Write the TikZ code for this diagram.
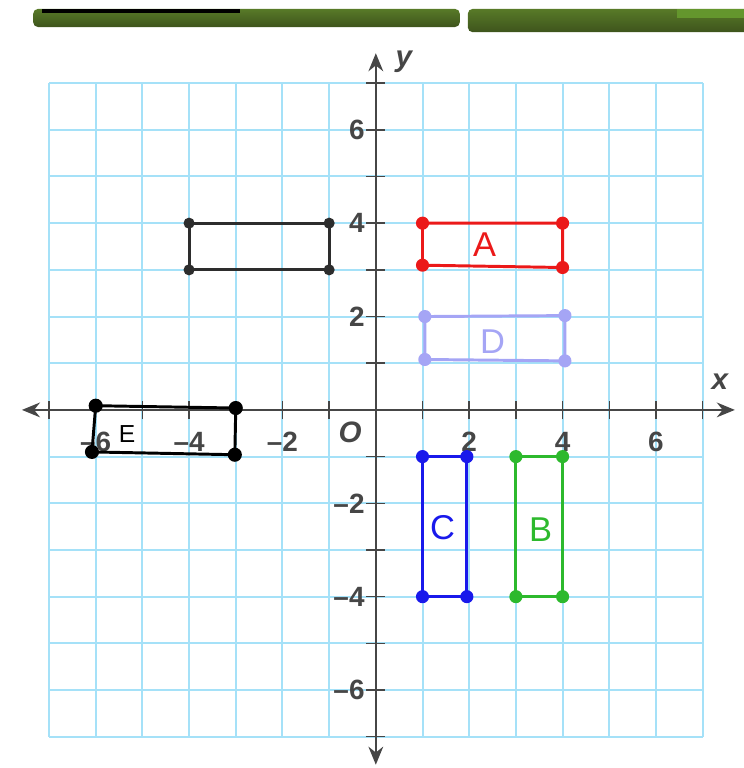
\documentclass[tikz,border=0pt]{standalone}
\usepackage{fontspec}
\setsansfont{Liberation Sans}
\usepackage{xcolor}
\usetikzlibrary{arrows.meta}
\definecolor{gridcyan}{RGB}{165,225,248}
\definecolor{axisgray}{RGB}{70,70,70}
\definecolor{barlight}{RGB}{88,122,40}
\definecolor{bardark}{RGB}{62,84,28}
\definecolor{barbright}{RGB}{100,150,45}
\definecolor{shapegray}{RGB}{45,45,45}
\definecolor{shapered}{RGB}{235,25,25}
\definecolor{shapelav}{RGB}{165,165,245}
\definecolor{shapeblue}{RGB}{25,25,235}
\definecolor{shapegreen}{RGB}{45,185,45}

\tikzset{
  ticklab/.style={font=\sffamily\bfseries\fontsize{17}{19}\selectfont, text=axisgray, inner sep=1pt},
  axislab/.style={font=\sffamily\bfseries\itshape\fontsize{18}{20}\selectfont, text=axisgray},
  handlab/.style={font=\sffamily\fontsize{21}{23}\selectfont},
  edge/.style={line width=1.8pt, line join=round},
}

\begin{document}
\begin{tikzpicture}[x=1cm,y=1cm]
    \useasboundingbox (-8.05,-7.67) rectangle (7.88,8.78);
    % header bars
    \shade[top color=barlight,bottom color=bardark,rounded corners=3pt]
        (-7.34,8.59) rectangle (1.80,8.20);
    \fill[black] (-7.15,8.59) rectangle (-2.91,8.51);
    \shade[top color=barlight,bottom color=bardark,rounded corners=3pt]
        (1.97,8.59) rectangle (8.2,8.09);
    \fill[barbright] (6.45,8.59) rectangle (7.88,8.40);
    % grid
    \draw[gridcyan,line width=1.2pt] (-7,-7) grid (7,7);
    % axes
    \coordinate (xl) at (-7.58,0);
    \coordinate (xr) at (7.69,0);
    \coordinate (yb) at (0,-7.60);
    \coordinate (yt) at (0,7.64);
    \draw[axisgray,line width=1.3pt,{Stealth[length=11pt,width=9pt]}-{Stealth[length=11pt,width=9pt]}] (xl) -- (xr);
    \draw[axisgray,line width=1.3pt,{Stealth[length=11pt,width=9pt]}-{Stealth[length=11pt,width=9pt]}] (yb) -- (yt);
    \node[axislab] (xname) at (7.37,0.6) {x};
    \node[axislab] (yname) at (0.6,7.45) {y};
    \node[axislab] (orig) at (-0.55,-0.47) {O};
    \foreach \t in {-7,...,-1,1,2,...,7}{
        \draw[axisgray,line width=0.9pt] (\t,-0.2) -- (\t,0.2);
        \draw[axisgray,line width=0.9pt] (-0.2,\t) -- (0.2,\t);
    }
    \foreach \t/\lab in {-6/--6,-4/--4,-2/--2,2/2,4/4,6/6}{
        \node[ticklab] (xt\t) at (\t,-0.68) {\lab};
        \node[ticklab,anchor=east] (yt\t) at (-0.2,\t) {\lab};
    }
    % printed rectangle
    \coordinate (P1) at (-4,4); \coordinate (P2) at (-1,4);
    \coordinate (P3) at (-1,3); \coordinate (P4) at (-4,3);
    \draw[shapegray,edge] (P1) -- (P2) -- (P3) -- (P4) -- cycle;
    \foreach \p in {P1,P2,P3,P4}
        \fill[shapegray] (\p) circle (3.4pt);
    % A
    \coordinate (A1) at (1,4); \coordinate (A2) at (4,4);
    \coordinate (A3) at (4,3.05); \coordinate (A4) at (1,3.1);
    \draw[shapered,edge] (A1) -- (A2) -- (A3) -- (A4) -- cycle;
    \foreach \p in {A1,A2,A3,A4}
        \fill[shapered] (\p) circle (4pt);
    \node[handlab,text=shapered] (labA) at (2.33,3.53) {A};
    % D
    \coordinate (D1) at (1.05,2); \coordinate (D2) at (4.05,2.02);
    \coordinate (D3) at (4.05,1.05); \coordinate (D4) at (1.05,1.08);
    \draw[shapelav,edge] (D1) -- (D2) -- (D3) -- (D4) -- cycle;
    \foreach \p in {D1,D2,D3,D4}
        \fill[shapelav] (\p) circle (4pt);
    \node[handlab,text=shapelav] (labD) at (2.5,1.46) {D};
    % C
    \coordinate (C1) at (1,-1); \coordinate (C2) at (1.95,-1);
    \coordinate (C3) at (1.95,-4); \coordinate (C4) at (1,-4);
    \draw[shapeblue,edge] (C1) -- (C2) -- (C3) -- (C4) -- cycle;
    \foreach \p in {C1,C2,C3,C4}
        \fill[shapeblue] (\p) circle (4pt);
    \node[handlab,text=shapeblue] (labC) at (1.43,-2.53) {C};
    % B
    \coordinate (B1) at (3,-1); \coordinate (B2) at (4,-1);
    \coordinate (B3) at (4,-4); \coordinate (B4) at (3,-4);
    \draw[shapegreen,edge] (B1) -- (B2) -- (B3) -- (B4) -- cycle;
    \foreach \p in {B1,B2,B3,B4}
        \fill[shapegreen] (\p) circle (4pt);
    \node[handlab,text=shapegreen] (labB) at (3.53,-2.57) {B};
    % E
    \coordinate (E1) at (-6.0,0.09); \coordinate (E2) at (-3.0,0.04);
    \coordinate (E3) at (-3.02,-0.96); \coordinate (E4) at (-6.08,-0.9);
    \draw[black,edge] (E1) -- (E2) -- (E3) -- (E4) -- cycle;
    \foreach \p in {E1,E2,E3,E4}
        \fill[black] (\p) circle (4.3pt);
    \node[handlab,font=\sffamily\fontsize{15}{17}\selectfont] (labE) at (-5.33,-0.51) {E};
\end{tikzpicture}
\end{document}
